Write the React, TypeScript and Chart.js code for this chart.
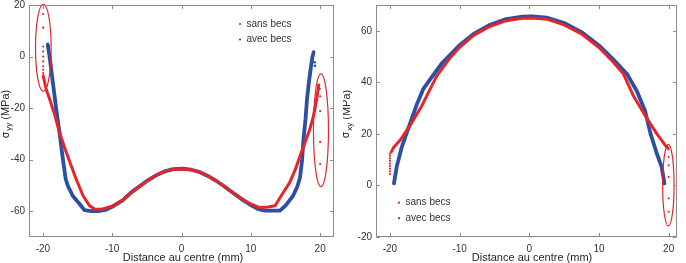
import React, { useEffect, useRef } from "react";
import { Chart, registerables } from "chart.js";

Chart.register(...registerables);

const RED = "#e4262c";
const BLUE = "#2d4fa2";
const AXIS = "#8c8c8c";
const TEXT = "#333333";
const FONT = "'Liberation Sans', Arial, Helvetica, sans-serif";

// ---- σyy panel ----
const YY_X_TICKS = [-20, -10, 0, 10, 20];
const YY_Y_TICKS = [-60, -40, -20, 0, 20];

const YY_SANS_X = [-19.95, -19.5, -19.0, -18.3, -17.6, -16.6, -15.9, -15.2, -14.2, -13.25, -12.5, -11.5, -10.0, -8.5, -7.2, -6.0, -4.8, -3.6, -2.4, -1.2, 0.2, 1.4, 2.6, 3.8, 5.0, 6.2, 7.4, 8.6, 9.8, 11.3, 12.5, 13.5, 14.5, 15.6, 16.4, 17.1, 17.8, 18.5, 19.0, 19.5, 19.8];
const YY_SANS_Y = [-7.5, -12.9, -16.7, -22.5, -29.5, -37.3, -42.5, -47.5, -54.0, -57.9, -59.2, -59.2, -58.0, -55.8, -52.8, -50.3, -48.0, -46.0, -44.6, -43.8, -43.6, -43.9, -44.8, -46.3, -48.2, -50.4, -52.8, -55.0, -57.0, -58.6, -58.4, -57.9, -53.5, -48.9, -44.0, -38.6, -33.5, -28.3, -23.5, -16.7, -11.0];
const YY_SANS_DOTS_X = [-19.95, -19.95, -19.95, -19.95, -19.95, -19.95, -19.95, -19.95, -19.95, 19.95, 20.0, 20.0, 20.0, 20.0];
const YY_SANS_DOTS_Y = [16.5, 11.2, 3.9, 2.0, 0.0, -1.9, -3.8, -5.1, -6.4, -12.5, -15.4, -21.2, -33.1, -41.6];

const YY_AVEC_X = [-19.3, -19.03, -18.55, -18.06, -17.6, -17.1, -16.7, -16.4, -15.7, -14.7, -14.0, -13.0, -12.0, -11.0, -10.0, -8.5, -7.2, -6.0, -4.8, -3.6, -2.4, -1.2, 0.2, 1.4, 2.6, 3.8, 5.0, 6.2, 7.4, 8.6, 9.8, 11.0, 12.0, 13.0, 14.2, 15.0, 16.1, 16.7, 17.1, 17.4, 17.6, 17.9, 18.1, 18.4, 18.7, 18.9, 19.05];
const YY_AVEC_Y = [4.5, 0.0, -10.3, -20.6, -29.5, -40.0, -47.6, -50.1, -54.0, -57.2, -59.6, -60.0, -60.0, -59.5, -58.3, -55.8, -52.6, -50.2, -47.9, -46.0, -44.5, -43.7, -43.5, -43.9, -44.8, -46.3, -48.2, -50.4, -52.8, -55.2, -57.3, -59.1, -59.8, -59.8, -59.8, -57.8, -54.0, -50.5, -46.9, -40.0, -32.1, -24.0, -16.7, -9.5, -3.5, 0.0, 1.5];
const YY_AVEC_DOTS_X = [-19.3, -19.15, 19.05, 19.2, 19.25];
const YY_AVEC_DOTS_Y = [4.9, 4.3, 1.9, -2.2, -3.6];

const YY_ELLIPSE_CX = [-19.93, 20.12];
const YY_ELLIPSE_CY = [3.4, -28.6];
const YY_ELLIPSE_RX = [1.13, 1.08];
const YY_ELLIPSE_RY = [16.9, 21.9];

// ---- σxy panel ----
const XY_X_TICKS = [-20, -10, 0, 10, 20];
const XY_Y_TICKS = [-20, 0, 20, 40, 60];

const XY_SANS_X = [-19.8, -19.5, -18.55, -17.1, -15.4, -14.45, -13.25, -11.5, -10.1, -8.0, -5.8, -3.5, -1.0, 0.5, 2.5, 5.0, 7.5, 10.0, 12.0, 13.5, 14.9, 16.6, 18.3, 19.5, 19.9];
const XY_SANS_Y = [13.0, 14.6, 17.5, 23.3, 31.0, 36.2, 42.6, 49.0, 53.3, 58.2, 61.5, 63.8, 64.9, 65.0, 64.5, 62.3, 58.8, 53.5, 48.0, 43.3, 35.0, 27.2, 20.1, 15.6, 14.5];
const XY_SANS_DOTS_X = [-20.0, -20.0, -20.0, -20.0, -20.0, -20.0, -20.0, -20.0, -20.0, 20.0, 20.0, 20.0, 20.0, 20.0, 20.0];
const XY_SANS_DOTS_Y = [4.4, 5.5, 6.5, 7.5, 8.5, 9.5, 10.5, 11.5, 12.3, 14.0, 11.0, 7.8, 3.3, -5.0, -10.2];

const XY_AVEC_X = [-19.42, -19.03, -18.3, -17.3, -16.1, -15.2, -14.0, -12.5, -10.1, -8.0, -5.8, -3.5, -1.0, 0.5, 2.5, 5.0, 7.5, 10.0, 12.0, 14.0, 15.4, 16.6, 17.4, 18.3, 19.0, 19.4];
const XY_AVEC_Y = [0.8, 7.2, 14.9, 22.6, 31.7, 37.5, 42.0, 47.5, 54.2, 58.8, 62.1, 64.4, 65.5, 65.6, 65.1, 63.0, 59.5, 54.3, 49.0, 43.3, 36.8, 29.1, 20.1, 12.4, 7.2, 0.8];

const XY_ELLIPSE_CX = [19.96];
const XY_ELLIPSE_CY = [0.1];
const XY_ELLIPSE_RX = [0.82];
const XY_ELLIPSE_RY = [15.8];

const LEGEND_LABELS = ["sans becs", "avec becs"];
const LEGEND_COLORS = [RED, BLUE];

const pts = (xs: number[], ys: number[]) => xs.map((x, i) => ({ x, y: ys[i] }));

type PanelSpec = {
  xMin: number;
  xMax: number;
  yMin: number;
  yMax: number;
  xTicks: number[];
  yTicks: number[];
  sans: { x: number; y: number }[];
  sansDots: { x: number; y: number }[];
  avec: { x: number; y: number }[];
  avecDots: { x: number; y: number }[];
  ellipses: { cx: number; cy: number; rx: number; ry: number }[];
  sub: string;
  yAxisWidth: number;
  yTitleX: number;
  yTitleY: number;
  xTitleX: number;
  legendX: number;
  legendY: number;
};

// Box, inward ticks, titles, legend and the highlighted regions
const framePlugin = {
  id: "frame",
  afterDatasetsDraw(chart: any, _args: any, opts: any) {
    const spec: PanelSpec = opts.spec;
    const { ctx, chartArea: a, scales } = chart;
    const xs = scales.x;
    const ys = scales.y;
    ctx.save();

    // highlighted regions
    ctx.strokeStyle = RED;
    ctx.lineWidth = 1.2;
    spec.ellipses.forEach((e) => {
      const cx = xs.getPixelForValue(e.cx);
      const cy = ys.getPixelForValue(e.cy);
      const rx = Math.abs(xs.getPixelForValue(e.cx + e.rx) - cx);
      const ry = Math.abs(ys.getPixelForValue(e.cy + e.ry) - cy);
      ctx.beginPath();
      ctx.ellipse(cx, cy, rx, ry, 0, 0, Math.PI * 2);
      ctx.stroke();
    });

    // axes box
    const l = Math.round(a.left) + 0.5;
    const r = Math.round(a.right) - 0.5;
    const t = Math.round(a.top) + 0.5;
    const b = Math.round(a.bottom) - 0.5;
    ctx.strokeStyle = AXIS;
    ctx.lineWidth = 1;
    ctx.strokeRect(l, t, r - l, b - t);

    // inward ticks on all four sides
    const tl = 3.5;
    ctx.beginPath();
    spec.xTicks.forEach((v) => {
      const px = Math.round(xs.getPixelForValue(v)) + 0.5;
      ctx.moveTo(px, b);
      ctx.lineTo(px, b - tl);
      ctx.moveTo(px, t);
      ctx.lineTo(px, t + tl);
    });
    spec.yTicks.forEach((v) => {
      const py = Math.round(ys.getPixelForValue(v)) + 0.5;
      ctx.moveTo(l, py);
      ctx.lineTo(l + tl, py);
      ctx.moveTo(r, py);
      ctx.lineTo(r - tl, py);
    });
    ctx.stroke();

    // x title
    ctx.fillStyle = "#262626";
    ctx.font = `11px ${FONT}`;
    ctx.textAlign = "center";
    ctx.textBaseline = "middle";
    ctx.fillText("Distance au centre (mm)", spec.xTitleX, 257.5);

    // y title: σ with subscript, then unit
    ctx.save();
    ctx.translate(spec.yTitleX, spec.yTitleY);
    ctx.rotate(-Math.PI / 2);
    ctx.textAlign = "left";
    ctx.textBaseline = "middle";
    const sigFont = `10px 'DejaVu Sans', ${FONT}`;
    const subFont = `8px ${FONT}`;
    const unitFont = `11px ${FONT}`;
    ctx.font = sigFont;
    const wSig = ctx.measureText("σ").width;
    ctx.font = subFont;
    const wSub = ctx.measureText(spec.sub).width;
    ctx.font = unitFont;
    const wUnit = ctx.measureText(" (MPa)").width;
    let x0 = -(wSig + wSub + 1 + wUnit) / 2;
    ctx.font = sigFont;
    ctx.fillText("σ", x0, 0);
    x0 += wSig + 1;
    ctx.font = subFont;
    ctx.fillText(spec.sub, x0, 3);
    x0 += wSub;
    ctx.font = unitFont;
    ctx.fillText(" (MPa)", x0, 0);
    ctx.restore();

    // legend
    ctx.font = `10px ${FONT}`;
    ctx.textAlign = "left";
    ctx.textBaseline = "middle";
    LEGEND_LABELS.forEach((lab, i) => {
      const y = spec.legendY + i * 15.5;
      ctx.fillStyle = LEGEND_COLORS[i];
      ctx.beginPath();
      ctx.arc(spec.legendX, y, 1.1, 0, Math.PI * 2);
      ctx.fill();
      ctx.fillStyle = TEXT;
      ctx.fillText(lab, spec.legendX + 6.5, y);
    });

    ctx.restore();
  },
};

function makeConfig(spec: PanelSpec): any {
  const tickFont = { family: FONT, size: 10 };
  return {
    type: "scatter",
    data: {
      datasets: [
        {
          label: "sans becs",
          data: spec.sans,
          showLine: true,
          borderColor: RED,
          borderWidth: 3,
          pointRadius: 0,
          tension: 0,
          borderCapStyle: "round",
          borderJoinStyle: "round",
        },
        {
          label: "sans becs (points)",
          data: spec.sansDots,
          showLine: false,
          pointRadius: 1.1,
          pointBorderWidth: 0,
          backgroundColor: RED,
        },
        {
          label: "avec becs",
          data: spec.avec,
          showLine: true,
          borderColor: BLUE,
          borderWidth: 3.8,
          pointRadius: 0,
          tension: 0,
          borderCapStyle: "round",
          borderJoinStyle: "round",
        },
        {
          label: "avec becs (points)",
          data: spec.avecDots,
          showLine: false,
          pointRadius: 1.3,
          pointBorderWidth: 0,
          backgroundColor: BLUE,
        },
      ],
    },
    options: {
      animation: false,
      responsive: false,
      events: [],
      layout: { padding: { left: 0, top: 5, right: 9, bottom: 0 } },
      plugins: {
        legend: { display: false },
        tooltip: { enabled: false },
        frame: { spec },
      },
      scales: {
        x: {
          type: "linear",
          min: spec.xMin,
          max: spec.xMax,
          afterBuildTicks: (s: any) => {
            s.ticks = spec.xTicks.map((v) => ({ value: v }));
          },
          afterFit: (s: any) => {
            s.height = 26;
            s.paddingLeft = 0;
            s.paddingRight = 0;
          },
          grid: { display: false, drawTicks: false },
          border: { display: false },
          ticks: { font: tickFont, color: TEXT, padding: 6, maxRotation: 0, autoSkip: false },
        },
        y: {
          type: "linear",
          min: spec.yMin,
          max: spec.yMax,
          afterBuildTicks: (s: any) => {
            s.ticks = spec.yTicks.map((v) => ({ value: v }));
          },
          afterFit: (s: any) => {
            s.width = spec.yAxisWidth;
            s.paddingTop = 0;
            s.paddingBottom = 0;
          },
          grid: { display: false, drawTicks: false },
          border: { display: false },
          ticks: { font: tickFont, color: TEXT, padding: 4, autoSkip: false },
        },
      },
    },
    plugins: [framePlugin],
  };
}

const ellipses = (cx: number[], cy: number[], rx: number[], ry: number[]) =>
  cx.map((v, i) => ({ cx: v, cy: cy[i], rx: rx[i], ry: ry[i] }));

const YY_SPEC: PanelSpec = {
  xMin: -22,
  xMax: 22,
  yMin: -70,
  yMax: 20,
  xTicks: YY_X_TICKS,
  yTicks: YY_Y_TICKS,
  sans: pts(YY_SANS_X, YY_SANS_Y),
  sansDots: pts(YY_SANS_DOTS_X, YY_SANS_DOTS_Y),
  avec: pts(YY_AVEC_X, YY_AVEC_Y),
  avecDots: pts(YY_AVEC_DOTS_X, YY_AVEC_DOTS_Y),
  ellipses: ellipses(YY_ELLIPSE_CX, YY_ELLIPSE_CY, YY_ELLIPSE_RX, YY_ELLIPSE_RY),
  sub: "yy",
  yAxisWidth: 29,
  yTitleX: 6,
  yTitleY: 114,
  xTitleX: 183,
  legendX: 240,
  legendY: 24,
};

const XY_SPEC: PanelSpec = {
  xMin: -22,
  xMax: 21.2,
  yMin: -20,
  yMax: 70,
  xTicks: XY_X_TICKS,
  yTicks: XY_Y_TICKS,
  sans: pts(XY_SANS_X, XY_SANS_Y),
  sansDots: pts(XY_SANS_DOTS_X, XY_SANS_DOTS_Y),
  avec: pts(XY_AVEC_X, XY_AVEC_Y),
  avecDots: [],
  ellipses: ellipses(XY_ELLIPSE_CX, XY_ELLIPSE_CY, XY_ELLIPSE_RX, XY_ELLIPSE_RY),
  sub: "xy",
  yAxisWidth: 33,
  yTitleX: 3.5,
  yTitleY: 114,
  xTitleX: 189,
  legendX: 56,
  legendY: 202.7,
};

function Panel({ spec, left }: { spec: PanelSpec; left: number }) {
  const ref = useRef<HTMLCanvasElement | null>(null);
  useEffect(() => {
    if (!ref.current) return;
    const chart = new Chart(ref.current, makeConfig(spec));
    return () => chart.destroy();
  }, [spec]);
  return (
    <canvas
      ref={ref}
      width={343}
      height={263}
      style={{ position: "absolute", left, top: 0, width: 343, height: 263, display: "block" }}
    />
  );
}

export default function App() {
  return (
    <div style={{ position: "absolute", left: 0, top: 0, width: 686, height: 263, background: "#ffffff" }}>
      <Panel spec={YY_SPEC} left={0} />
      <Panel spec={XY_SPEC} left={343} />
    </div>
  );
}
